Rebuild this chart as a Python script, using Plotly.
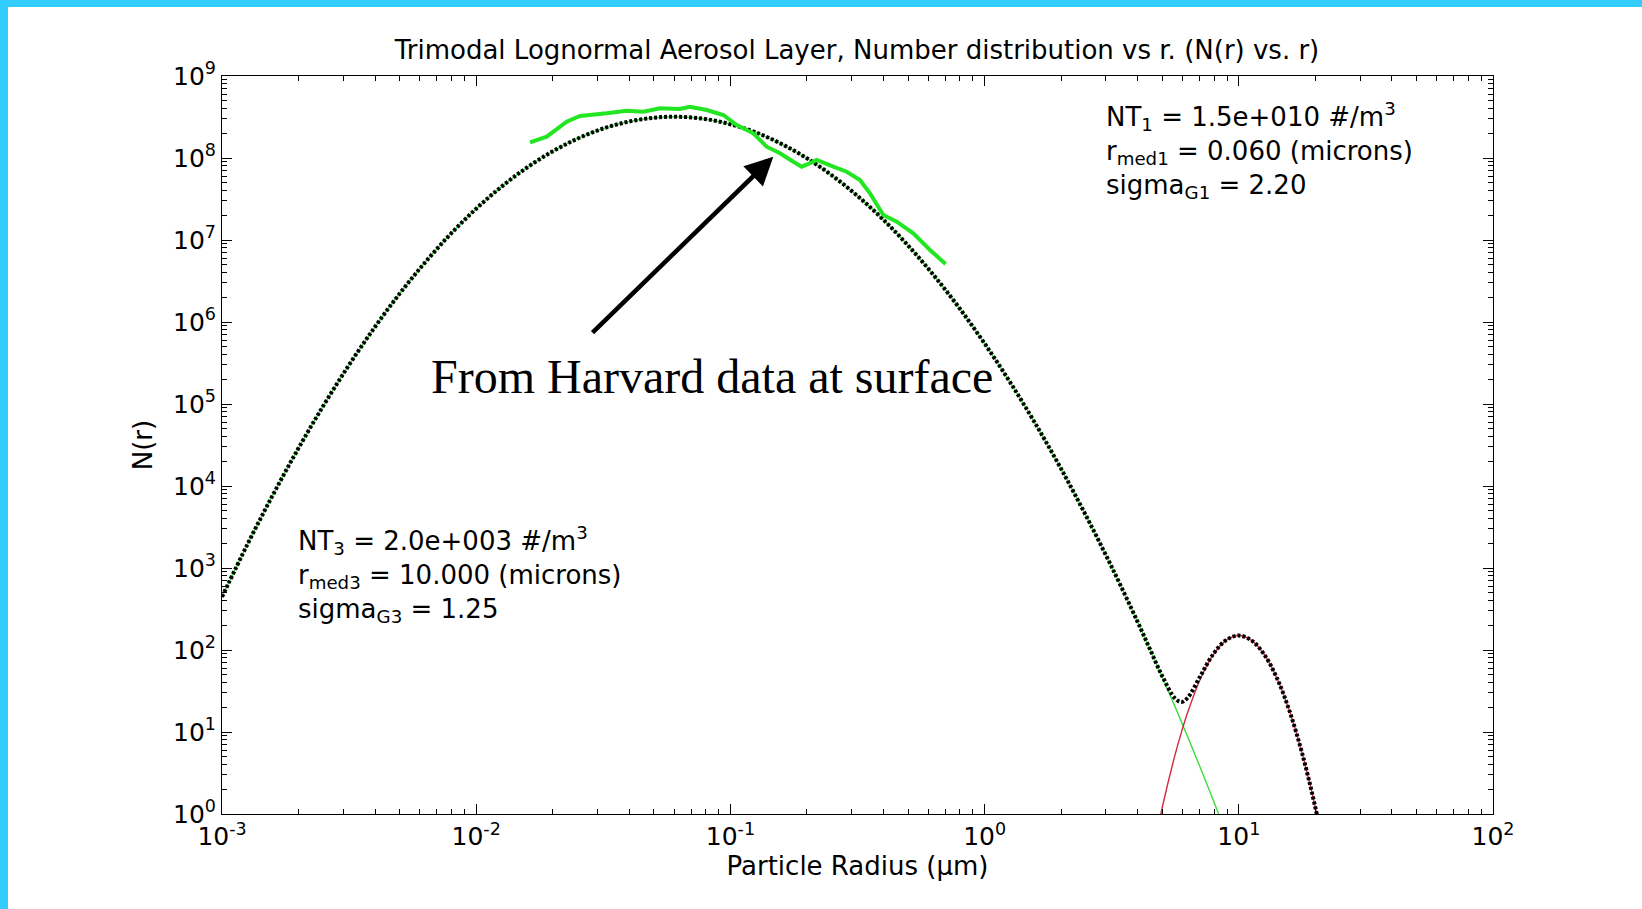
import plotly.graph_objects as go

# Particle radius grid (microns) shared by the modeled curves
radius_um = [
    0.001, 0.001259, 0.001585, 0.001995, 0.002512, 0.003162, 0.003981, 0.005012, 0.006310, 0.007943,
    0.01, 0.01259, 0.01585, 0.01995, 0.02512, 0.03162, 0.03981, 0.05012, 0.06310, 0.07943,
    0.1, 0.1259, 0.1585, 0.1995, 0.2512, 0.3162, 0.3981, 0.5012, 0.6310, 0.7943,
    1.0, 1.259, 1.585, 1.995, 2.512, 3.162, 3.981,
    4.467, 5.012, 5.623, 5.957, 6.310, 7.079, 7.943, 8.913, 10.0,
    11.22, 12.59, 14.13, 15.85, 17.78, 19.95, 22.39, 25.12,
]

# Mode 1 (accumulation mode) number distribution
mode1_n = [
    444, 1940, 7770, 28600, 96700, 3.00e5, 8.56e5, 2.24e6, 5.38e6, 1.19e7,
    2.41e7, 4.48e7, 7.66e7, 1.20e8, 1.73e8, 2.29e8, 2.78e8, 3.10e8, 3.18e8, 2.99e8,
    2.58e8, 2.05e8, 1.49e8, 9.97e7, 6.12e7, 3.45e7, 1.79e7, 8.50e6, 3.71e6, 1.49e6,
    5.47e5, 1.85e5, 5.74e4, 1.64e4, 4280, 1030, 227,
    103, 46.0, 20.1, 13.1, 8.56, 3.58, 1.46, 0.585, 0.229,
    None, None, None, None, None, None, None, None,
]

# Mode 3 (coarse mode) number distribution
mode3_n = [
    None, None, None, None, None, None, None, None, None, None,
    None, None, None, None, None, None, None, None, None, None,
    None, None, None, None, None, None, None, None, None, None,
    None, None, None, None, None, None, 0.030,
    0.221, 1.245, 5.38, 10.1, 17.8, 45.3, 88.1, 131, 150,
    131, 88.1, 45.3, 17.8, 5.38, 1.245, 0.221, 0.030,
]

# Sum of all modes
total_n = [
    444, 1940, 7770, 28600, 96700, 3.00e5, 8.56e5, 2.24e6, 5.38e6, 1.19e7,
    2.41e7, 4.48e7, 7.66e7, 1.20e8, 1.73e8, 2.29e8, 2.78e8, 3.10e8, 3.18e8, 2.99e8,
    2.58e8, 2.05e8, 1.49e8, 9.97e7, 6.12e7, 3.45e7, 1.79e7, 8.50e6, 3.71e6, 1.49e6,
    5.47e5, 1.85e5, 5.74e4, 1.64e4, 4280, 1030, 227,
    103, 47.2, 25.5, 23.2, 26.4, 48.9, 89.6, 132, 150,
    131, 88.1, 45.3, 17.8, 5.38, 1.245, 0.221, 0.030,
]

# Measured surface size distribution (Harvard)
harvard_r = [
    0.01628, 0.01894, 0.02270, 0.02561, 0.03261, 0.03908, 0.04545, 0.05284, 0.06333, 0.06934,
    0.08066, 0.09378, 0.1059, 0.1231, 0.1389, 0.1567, 0.1768, 0.1907, 0.2056, 0.2185,
    0.2540, 0.2868, 0.3235, 0.3540, 0.3995, 0.4510, 0.5241, 0.6098, 0.7023,
]
harvard_n = [
    1.554e8, 1.819e8, 2.772e8, 3.252e8, 3.508e8, 3.775e8, 3.670e8, 4.037e8, 3.959e8, 4.222e8,
    3.849e8, 3.345e8, 2.526e8, 2.001e8, 1.373e8, 1.141e8, 9.015e7, 7.834e7, 8.619e7, 9.454e7,
    7.834e7, 6.806e7, 5.391e7, 3.711e7, 2.018e7, 1.672e7, 1.207e7, 7.551e6, 5.098e6,
]

x_exponents = [-3, -2, -1, 0, 1, 2]
y_exponents = [0, 1, 2, 3, 4, 5, 6, 7, 8, 9]

FONT = "DejaVu Sans"
FS = 26
TICK_FS = 25

fig = go.Figure()

fig.add_trace(go.Scatter(
    x=radius_um, y=mode1_n, mode="lines", line=dict(color="#3CDC3C", width=1.4, shape="spline"),
    connectgaps=False, hoverinfo="skip"))
fig.add_trace(go.Scatter(
    x=radius_um, y=mode3_n, mode="lines", line=dict(color="#D02A3A", width=1.4, shape="spline"),
    connectgaps=False, hoverinfo="skip"))
# Total distribution as a dense chain of black dots
fig.add_trace(go.Scatter(
    x=radius_um, y=total_n, mode="lines", line=dict(color="black", width=4, dash="3px,2px", shape="spline"),
    hoverinfo="skip"))
fig.add_trace(go.Scatter(
    x=harvard_r, y=harvard_n, mode="lines", line=dict(color="#22E622", width=4),
    hoverinfo="skip"))

axis_common = dict(
    type="log", showgrid=False, zeroline=False, showline=True, linecolor="black", linewidth=1,
    mirror="ticks", ticks="inside", ticklen=10, tickwidth=1, tickcolor="black",
    tickfont=dict(family=FONT, size=TICK_FS, color="black"),
    minor=dict(ticks="inside", ticklen=5, tickwidth=1, tickcolor="black", dtick="D1", showgrid=False),
)

fig.update_xaxes(
    range=[-3, 2],
    tickvals=[10.0 ** e for e in x_exponents],
    ticktext=[f"10<sup>{e}</sup>" for e in x_exponents],
    title=dict(text="Particle Radius (\u00b5m)", font=dict(family=FONT, size=FS, color="black"), standoff=4),
    **axis_common,
)
fig.update_yaxes(
    range=[0, 9],
    tickvals=[10.0 ** e for e in y_exponents],
    ticktext=[f"10<sup>{e}</sup>" for e in y_exponents],
    title=dict(text="N(r)", font=dict(family=FONT, size=FS, color="black"), standoff=12),
    **axis_common,
)

# Blue frame strips along the left and top edges of the page
W, H = 1642, 909
L, R, T, B = 222, 149, 76, 95
pw, ph = W - L - R, H - T - B
px = lambda p: (p - L) / pw
py = lambda p: 1 - (p - T) / ph
fig.add_shape(type="rect", xref="paper", yref="paper", x0=px(0), x1=px(8), y0=py(H), y1=py(0),
              fillcolor="#33CCFF", line=dict(width=0), layer="above")
fig.add_shape(type="rect", xref="paper", yref="paper", x0=px(0), x1=px(W), y0=py(7), y1=py(0),
              fillcolor="#33CCFF", line=dict(width=0), layer="above")

fig.add_annotation(
    xref="paper", yref="paper", x=px(1104), y=py(151), xanchor="left", yanchor="middle",
    align="left", showarrow=False,
    text="NT<sub>1</sub> = 1.5e+010 #/m<sup>3</sup><br>r<sub>med1</sub> = 0.060 (microns)<br>sigma<sub>G1</sub> = 2.20",
    font=dict(family=FONT, size=FS, color="black"))
fig.add_annotation(
    xref="paper", yref="paper", x=px(296), y=py(574), xanchor="left", yanchor="middle",
    align="left", showarrow=False,
    text="NT<sub>3</sub> = 2.0e+003 #/m<sup>3</sup><br>r<sub>med3</sub> = 10.000 (microns)<br>sigma<sub>G3</sub> = 1.25",
    font=dict(family=FONT, size=FS, color="black"))

fig.add_annotation(
    xref="paper", yref="paper", x=px(429), y=py(377), xanchor="left", yanchor="middle",
    showarrow=False, text="From Harvard data at surface",
    font=dict(family="Liberation Serif", size=48, color="black"))

fig.add_annotation(
    x=-0.8312, y=8.0159, ax=-1.5484, ay=5.8537, xref="x", yref="y", axref="x", ayref="y",
    text="", showarrow=True, arrowhead=2, arrowsize=1.25, arrowwidth=4.5, arrowcolor="black")

fig.update_layout(
    width=W, height=H, autosize=False,
    margin=dict(l=L, r=R, t=T, b=B),
    paper_bgcolor="white", plot_bgcolor="white", showlegend=False,
    font=dict(family=FONT, size=FS, color="black"),
    title=dict(text="Trimodal Lognormal Aerosol Layer, Number distribution vs r. (N(r) vs. r)",
               x=px(857), xanchor="center", xref="paper", y=1 - 50 / H, yanchor="middle", yref="container",
               font=dict(family=FONT, size=FS, color="black")),
)

fig.write_html("out.html")
